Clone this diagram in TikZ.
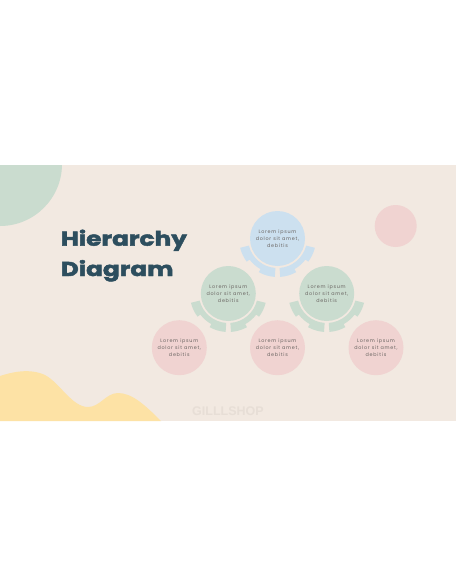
\documentclass[tikz,border=0pt]{standalone}
\usepackage{fontspec}
\setmainfont{Poppins}
\newfontfamily\lorem[LetterSpace=15]{Poppins}
\newfontfamily\titlefont[BoldFeatures={FakeBold=2.2}]{Poppins}
\newfontfamily\wmfont{Liberation Sans}
\definecolor{bgc}{HTML}{F2E9E1}
\definecolor{greenc}{HTML}{CADCCF}
\definecolor{pinkc}{HTML}{F0D3D1}
\definecolor{bluec}{HTML}{CCE0EF}
\definecolor{yellowc}{HTML}{FDE2A5}
\definecolor{titlec}{HTML}{2D4E5E}
\definecolor{textc}{HTML}{6A6562}
\definecolor{wmc}{HTML}{E7DED6}
\tikzset{
  bubble/.style={circle, minimum size=55pt, inner sep=0pt, align=center, text=textc,
    font={\lorem\fontsize{4.85}{7.3}\selectfont}},
  titletext/.style={font=\titlefont\bfseries\fontsize{20}{30}\selectfont, text=titlec,
    anchor=base west, xscale=1.24, inner sep=0pt},
  wing/.pic={
    \fill[pic actions] (94:29.5) arc[start angle=94,end angle=166,radius=29.5] -- (166:38.5)
      arc[start angle=166,end angle=143,radius=38.5] -- (143:35)
      arc[start angle=143,end angle=119,radius=35] -- (119:38.5)
      arc[start angle=119,end angle=94,radius=38.5] -- cycle;
    \fill[pic actions] (86:29.5) arc[start angle=86,end angle=14,radius=29.5] -- (14:38.5)
      arc[start angle=14,end angle=37,radius=38.5] -- (37:35)
      arc[start angle=37,end angle=61,radius=35] -- (61:38.5)
      arc[start angle=61,end angle=86,radius=38.5] -- cycle;
  }
}
\begin{document}
\begin{tikzpicture}[x=1pt,y=-1pt]
\useasboundingbox (0,0) rectangle (456,586);
\fill[white] (0,0) rectangle (456,586);
\fill[bgc] (0,165) rectangle (456,421);
\begin{scope}
\clip (0,165) rectangle (456,421);
\fill[greenc] (0,164) circle[radius=62];
\fill[yellowc] (0,376) .. controls (12,372) and (30,368) .. (45,375)
  .. controls (60,383) and (72,407) .. (88,407)
  .. controls (100,407) and (106,393) .. (118,393)
  .. controls (132,393) and (145,405) .. (161,421) -- (0,421) -- cycle;
\end{scope}
\fill[pinkc] (395.7,226) circle[radius=21];
\node[titletext] (t1) at (60.5,245.7) {Hierarchy};
\node[titletext] (t2) at (60.5,276) {Diagram};
\node[bubble, fill=bluec] (top) at (277.5,238.5) {Lorem ipsum\\dolor sit amet,\\debitis};
\node[bubble, fill=greenc] (gl) at (228.3,293.5) {Lorem ipsum\\dolor sit amet,\\debitis};
\node[bubble, fill=greenc] (gr) at (326.7,293.5) {Lorem ipsum\\dolor sit amet,\\debitis};
\node[bubble, fill=pinkc] (pl) at (179.3,347.7) {Lorem ipsum\\dolor sit amet,\\debitis};
\node[bubble, fill=pinkc] (pm) at (277.5,347.7) {Lorem ipsum\\dolor sit amet,\\debitis};
\node[bubble, fill=pinkc] (pr) at (376,347.7) {Lorem ipsum\\dolor sit amet,\\debitis};
\pic[fill=bluec] at (top) {wing};
\pic[fill=greenc] at (gl) {wing};
\pic[fill=greenc] at (gr) {wing};
\node[font=\wmfont\bfseries\fontsize{12.5}{14}\selectfont, text=wmc] (wm) at (228,411) {GILLLSHOP};
\end{tikzpicture}
\end{document}
